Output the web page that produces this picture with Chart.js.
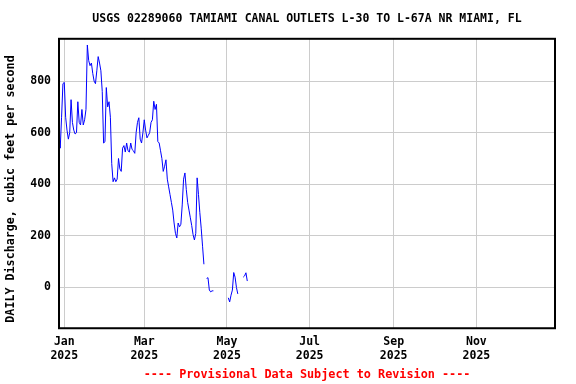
<!DOCTYPE html>
<html>
<head>
<meta charset="utf-8">
<script src="https://cdn.jsdelivr.net/npm/chart.js@4/dist/chart.umd.min.js"></script>
<style>
html,body{margin:0;padding:0;background:#fff;}
canvas{display:block;}
</style>
</head>
<body>
<canvas id="c" width="576" height="384"></canvas>
<script>
// ---- data (daily discharge, cfs) ----
const firstDayOffset = -4; // first value is 2024-12-28 (days from 2025-01-01)
const decValues = [600,540,660,790];
const janValues = [795,660,610,575,600,728,640,610,595,600,
                   720,640,630,690,630,650,690,940,880,860,
                   870,830,800,790,840,895,870,840,760,560,565];
const febValues = [775,700,720,660,480,410,425,410,420,500,
                   460,450,540,550,525,560,530,525,560,535,
                   530,520,600,640,658,575,560,600];
const marValues = [650,610,580,590,600,640,650,722,690,710,
                   566,560,530,500,450,470,495,420,390,360,
                   330,300,250,210,192,250,235,245,320,420,444];
const aprValues = [380,330,300,270,240,205,184,210,425,360,
                   290,230,160,90,null,35,38,-10,-17,-13,
                   -13,null,null,null,null,null,null,null,null,null];
const mayValues = [null,-40,-56,-30,-10,58,40,0,-25,null,null,null,40,45,57,25];

const tickDays = [0,59,120,181,243,304];
const tickMonths = ['Jan','Mar','May','Jul','Sep','Nov'];
const tickYears = ['2025','2025','2025','2025','2025','2025'];
const yTicks = [0,200,400,600,800];

const titleText = 'USGS 02289060 TAMIAMI CANAL OUTLETS L-30 TO L-67A NR MIAMI, FL';
const yTitle = 'DAILY Discharge, cubic feet per second';
const footerText = '---- Provisional Data Subject to Revision ----';

const allValues = [].concat(decValues, janValues, febValues, marValues, aprValues, mayValues);
const points = allValues.map((v, i) => ({x: i + firstDayOffset, y: v}));

const FONT = 'DejaVu Sans Mono';

const framePlugin = {
  id: 'frame',
  afterDraw(chart) {
    const {ctx, chartArea: a} = chart;
    ctx.save();
    ctx.strokeStyle = '#000';
    ctx.lineWidth = 2;
    ctx.strokeRect(a.left, a.top, a.right - a.left, a.bottom - a.top);
    ctx.translate(11, 189);
    ctx.rotate(-Math.PI / 2);
    ctx.fillStyle = '#000';
    ctx.font = 'bold 11.7px "' + FONT + '"';
    ctx.textAlign = 'center';
    ctx.textBaseline = 'middle';
    ctx.fillText(yTitle, 0, 0);
    ctx.restore();
  }
};

new Chart(document.getElementById('c'), {
  type: 'line',
  data: {
    datasets: [{
      data: points,
      borderColor: '#0000ff',
      borderWidth: 1,
      pointRadius: 0,
      tension: 0,
      spanGaps: false,
      fill: false
    }]
  },
  options: {
    responsive: false,
    animation: false,
    devicePixelRatio: 1,
    layout: {padding: {left: 0, right: 21, top: 0, bottom: 0}},
    plugins: {
      legend: {display: false},
      tooltip: {enabled: false},
      title: {
        display: true,
        fullSize: false,
        text: titleText,
        color: '#000',
        font: {family: FONT, weight: 'bold', size: 11.5},
        padding: {top: 12, bottom: 13}
      },
      subtitle: {
        display: true,
        fullSize: false,
        position: 'bottom',
        text: footerText,
        color: '#ff0000',
        font: {family: FONT, weight: 'bold', size: 11.8},
        padding: {top: 0, bottom: 2}
      }
    },
    scales: {
      x: {
        type: 'linear',
        min: -3.9,
        max: 362,
        afterBuildTicks: (s) => { s.ticks = tickDays.map(v => ({value: v})); },
        afterFit: (s) => { s.height = 39.6; },
        grid: {color: '#cccccc', lineWidth: 1, drawTicks: false},
        border: {display: false},
        ticks: {
          color: '#000',
          padding: 7,
          maxRotation: 0,
          autoSkip: false,
          font: {family: FONT, weight: 'bold', size: 11.5},
          callback: (v, i) => [tickMonths[i], tickYears[i]]
        }
      },
      y: {
        type: 'linear',
        min: -158,
        max: 964,
        afterBuildTicks: (s) => { s.ticks = yTicks.map(v => ({value: v})); },
        afterFit: (s) => { s.width = 59; },
        grid: {color: '#cccccc', lineWidth: 1, drawTicks: false},
        border: {display: false},
        ticks: {
          color: '#000',
          padding: 8,
          font: {family: FONT, weight: 'bold', size: 11.5},
          callback: (v) => String(v)
        }
      }
    }
  },
  plugins: [framePlugin]
});
</script>
</body>
</html>
